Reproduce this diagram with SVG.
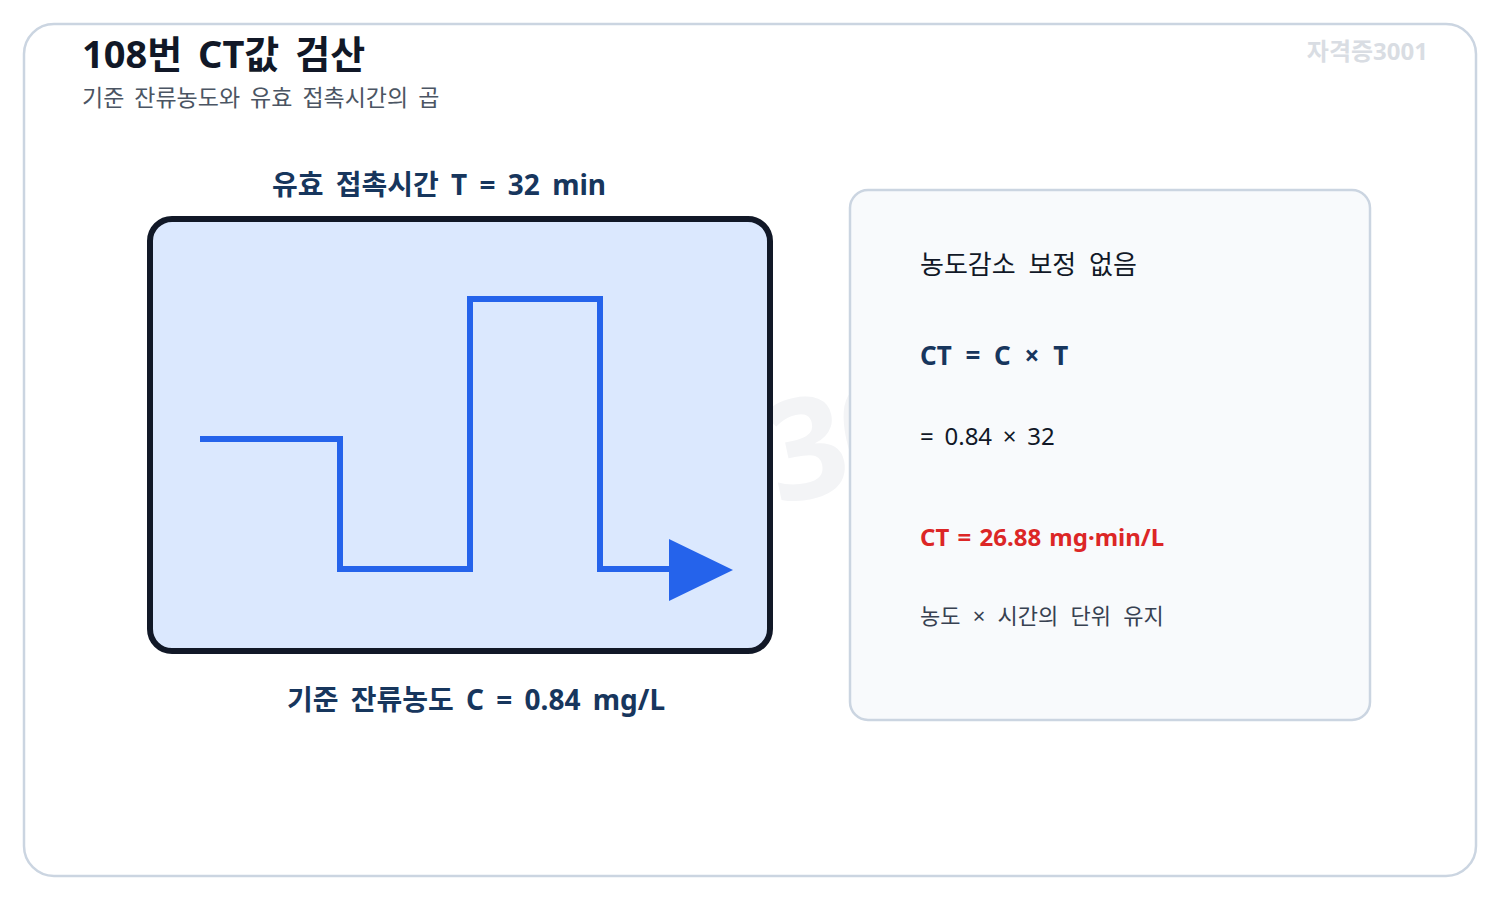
<svg xmlns="http://www.w3.org/2000/svg" width="1500" height="900" viewBox="0 0 1500 900">
<style>
text{font-family:"Noto Sans","Noto Sans CJK KR",sans-serif}
.title{font-size:38px;font-weight:700;fill:#111827;word-spacing:6px}
.sub{font-size:23px;fill:#4b5563;word-spacing:4px}
.lbl{font-size:28px;font-weight:700;fill:#17365d;text-anchor:middle;word-spacing:5px}
.t1{font-size:24px;fill:#111827;word-spacing:4.5px}
.h{font-size:26px;fill:#111827;word-spacing:6px}
.f{font-size:26px;font-weight:700;fill:#17365d;word-spacing:7px}
.res{font-size:24px;font-weight:700;fill:#dc2626;word-spacing:2px}
.note{font-size:22px;fill:#374151;word-spacing:6.5px}
</style>
<rect x="24" y="24" width="1452" height="852" rx="30" fill="#ffffff" stroke="#cbd5e1" stroke-width="2.5"/>
<text x="392" y="499" transform="rotate(-12 800 450)" style="font-size:140px;font-weight:700;fill:#f3f4f6;letter-spacing:-4px">자격증3001</text>
<text class="title" x="82" y="68">108번 CT값 검산</text>
<text class="sub" x="82" y="106">기준 잔류농도와 유효 접촉시간의 곱</text>
<text x="1428" y="60" text-anchor="end" style="font-size:24px;font-weight:700;fill:#d9dde3">자격증3001</text>
<g id="flow">
<text class="lbl" x="439" y="195">유효 접촉시간 T = 32 min</text>
<rect x="150" y="219" width="620" height="432" rx="22" fill="#dbe8fe" stroke="#111827" stroke-width="6"/>
<text class="lbl" x="476" y="710">기준 잔류농도 C = 0.84 mg/L</text>
</g>
<g id="connectors">
<path d="M200,439 H340 V569 H470 V299 H600 V569 H672" fill="none" stroke="#2563eb" stroke-width="6"/>
<polygon points="669,539 733,570 669,601" fill="#2563eb"/>
</g>
<g id="calc">
<rect x="850" y="190" width="520" height="530" rx="18" fill="#f8fafc" stroke="#cbd5e1" stroke-width="2.5"/>
<text class="h" x="920" y="274">농도감소 보정 없음</text>
<text class="f" x="920" y="365">CT = C × T</text>
<text class="t1" x="920" y="445">= 0.84 × 32</text>
<text class="res" x="920" y="546">CT = 26.88 mg·min/L</text>
<text class="note" x="920" y="624">농도 × 시간의 단위 유지</text>
</g>
</svg>
